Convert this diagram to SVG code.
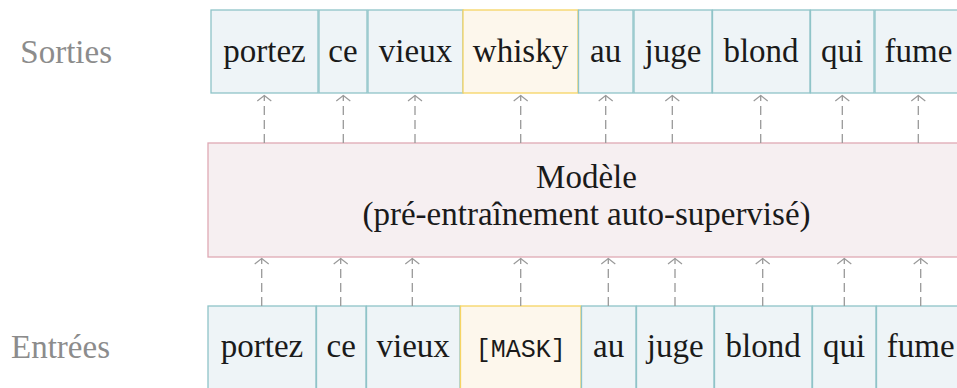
<svg xmlns="http://www.w3.org/2000/svg" width="957" height="388" viewBox="0 0 957 388" font-family="Liberation Serif, DejaVu Serif, serif">
<defs>
<style>
.tok{fill:#eef4f7;stroke:#8fc4c8;stroke-width:1.3}
.msk{fill:#fdf7ec;stroke:#f6d463;stroke-width:1.3}
.mdl{fill:#f6eff1;stroke:#dfa9b4;stroke-width:1.3}
.t{font-size:33px;fill:#1a1a1a;text-anchor:middle}
.mono{font-size:25px;fill:#1a1a1a;text-anchor:middle}
.lbl{font-size:33px;fill:#8c8c8c;text-anchor:end}
.arr{stroke:#999;stroke-width:1.3;stroke-dasharray:9 5;fill:none;marker-end:url(#ah)}
</style>
<marker id="ah" markerUnits="userSpaceOnUse" viewBox="-9 -9 18 18" markerWidth="18" markerHeight="18" refX="0" refY="0" orient="auto">
<path d="M -5.5 -7 L 0 0 L -5.5 7" fill="none" stroke="#999" stroke-width="1.2"/>
</marker>
</defs>
<rect width="957" height="388" fill="#fff"/>
<text class="lbl" x="112" y="63">Sorties</text>
<text class="lbl" x="110" y="358">Entrées</text>
<g id="out-portez"><rect class="tok" x="211" y="10" width="107" height="83"/><text class="t" x="264.5" y="62">portez</text></g>
<g id="out-ce"><rect class="tok" x="319" y="10" width="48" height="83"/><text class="t" x="343" y="62">ce</text></g>
<g id="out-vieux"><rect class="tok" x="368" y="10" width="95" height="83"/><text class="t" x="415.5" y="62">vieux</text></g>
<g id="out-whisky"><rect class="msk" x="463" y="10" width="115" height="83"/><text class="t" x="520.5" y="62">whisky</text></g>
<g id="out-au"><rect class="tok" x="578.5" y="10" width="54.5" height="83"/><text class="t" x="605.7" y="62">au</text></g>
<g id="out-juge"><rect class="tok" x="634" y="10" width="78" height="83"/><text class="t" x="673" y="62">juge</text></g>
<g id="out-blond"><rect class="tok" x="712.5" y="10" width="97.5" height="83"/><text class="t" x="761" y="62">blond</text></g>
<g id="out-qui"><rect class="tok" x="810.5" y="10" width="63.5" height="83"/><text class="t" x="842" y="62">qui</text></g>
<g id="out-fume"><rect class="tok" x="875" y="10" width="90" height="83"/><text class="t" x="918.5" y="62">fume</text></g>
<g id="model"><rect class="mdl" x="208" y="143" width="760" height="114"/><text class="t" x="586.5" y="188">Modèle</text><text class="t" x="586.5" y="225">(pré-entraînement auto-supervisé)</text></g>
<g id="in-portez"><rect class="tok" x="208" y="306" width="108" height="90"/><text class="t" x="262" y="357">portez</text></g>
<g id="in-ce"><rect class="tok" x="316.5" y="306" width="49.5" height="90"/><text class="t" x="341.2" y="357">ce</text></g>
<g id="in-vieux"><rect class="tok" x="366.5" y="306" width="93.5" height="90"/><text class="t" x="413.2" y="357">vieux</text></g>
<g id="in-mask"><rect class="msk" x="460.5" y="306" width="120.5" height="90"/><text class="mono" x="520.7" y="357" font-family="Liberation Mono, DejaVu Sans Mono, monospace">[MASK]</text></g>
<g id="in-au"><rect class="tok" x="581.5" y="306" width="54.5" height="90"/><text class="t" x="608.7" y="357">au</text></g>
<g id="in-juge"><rect class="tok" x="636.5" y="306" width="77.5" height="90"/><text class="t" x="675.2" y="357">juge</text></g>
<g id="in-blond"><rect class="tok" x="714.5" y="306" width="97.5" height="90"/><text class="t" x="763.2" y="357">blond</text></g>
<g id="in-qui"><rect class="tok" x="812.5" y="306" width="63.5" height="90"/><text class="t" x="844.2" y="357">qui</text></g>
<g id="in-fume"><rect class="tok" x="876.5" y="306" width="90" height="90"/><text class="t" x="920.7" y="357">fume</text></g>
<g id="connectors">
<path class="arr" d="M264.3 143V95.5"/>
<path class="arr" d="M343.3 143V95.5"/>
<path class="arr" d="M415 143V95.5"/>
<path class="arr" d="M520.7 143V95.5"/>
<path class="arr" d="M605.7 143V95.5"/>
<path class="arr" d="M672.3 143V95.5"/>
<path class="arr" d="M760.7 143V95.5"/>
<path class="arr" d="M842.3 143V95.5"/>
<path class="arr" d="M918.3 143V95.5"/>
<path class="arr" d="M261.7 306V258.5"/>
<path class="arr" d="M340.7 306V258.5"/>
<path class="arr" d="M412.3 306V258.5"/>
<path class="arr" d="M520.7 306V258.5"/>
<path class="arr" d="M608.3 306V258.5"/>
<path class="arr" d="M675 306V258.5"/>
<path class="arr" d="M762.7 306V258.5"/>
<path class="arr" d="M844.3 306V258.5"/>
<path class="arr" d="M920.7 306V258.5"/>
</g>
</svg>
